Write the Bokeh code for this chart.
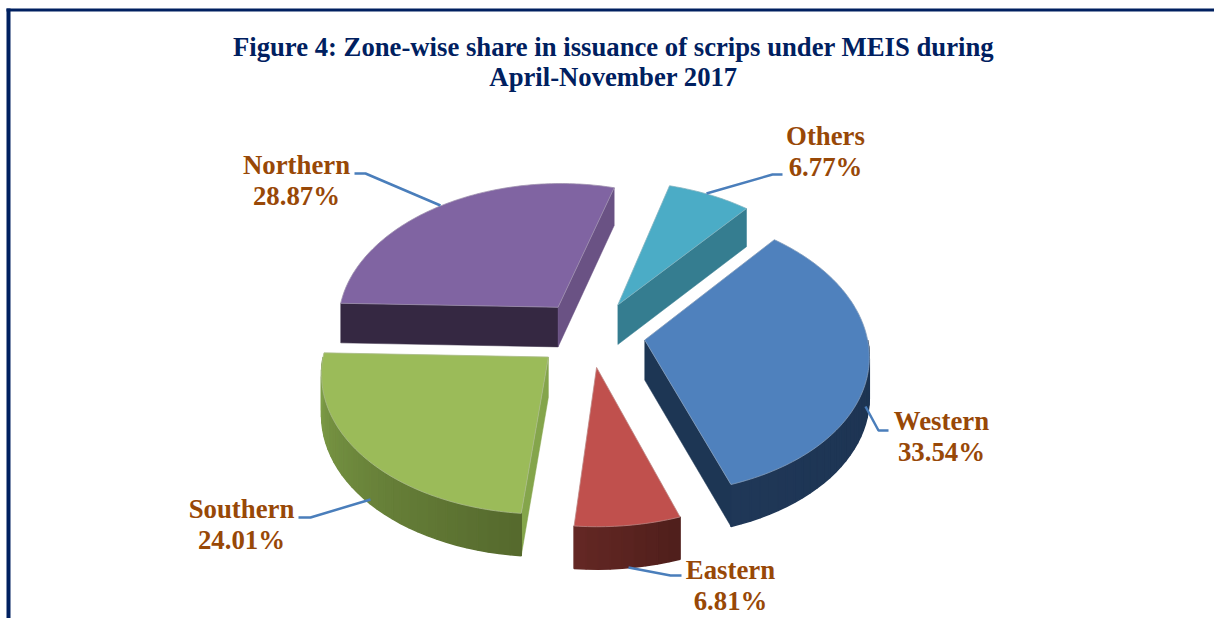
import math
from bokeh.plotting import figure
from bokeh.models import Range1d
from bokeh.core.properties import value
from bokeh.embed import file_html
from bokeh.resources import INLINE

# --- data ---
zones = ["Western", "Eastern", "Southern", "Northern", "Others"]
shares = [33.54, 6.81, 24.01, 28.87, 6.77]
share_labels = ["33.54%", "6.81%", "24.01%", "28.87%", "6.77%"]
title_lines = ["Figure 4: Zone-wise share in issuance of scrips under MEIS during",
               "April-November 2017"]

# --- style ---
top_colors = ["#4f81bd", "#c0504d", "#9bbb59", "#8064a2", "#4bacc6"]
rim_colors = [("#1f3757", "#1d3452"), ("#642824", "#4f1e1b"), ("#7f9f48", "#55692d"),
              None, None]
start_face = [None, None, "#84a54b", "#352842", None]
end_face = ["#1d3654", None, None, "#6a5284", "#357d90"]
draw_order = [4, 3, 0, 2, 1]
slice_shift = [(0, 0), (-6, 2), (-11, 2), (-10, -3), (-1, -3)]

# --- projection ---
START = 40.0
EXPLODE = 0.22
CX, CY = 596.0, 334.0
RX, RY = 222.0, 139.0
KX, KY = 0.10, 0.09
DEPTH = 40.0
W, H = 1214, 618


def project(X, Y, low=False):
    x = CX + RX * X / (1 - KX * Y)
    y = CY + RY * Y / (1 - KY * Y)
    if low:
        y += DEPTH * (1 + 0.05 * Y)
    return x, y


def ground(theta, mid, r=1.0):
    t, m = math.radians(theta), math.radians(mid)
    return (EXPLODE * math.sin(m) + r * math.sin(t),
            -EXPLODE * math.cos(m) - r * math.cos(t))


def pt(i, theta, mid, r=1.0, low=False):
    x, y = project(*ground(theta, mid, r), low=low)
    return x + slice_shift[i][0], y + slice_shift[i][1]


def mix(a, b, f):
    ca = [int(a[i:i + 2], 16) for i in (1, 3, 5)]
    cb = [int(b[i:i + 2], 16) for i in (1, 3, 5)]
    return "#%02x%02x%02x" % tuple(round(u + (v - u) * f) for u, v in zip(ca, cb))


total = sum(shares)
angles = []
cur = START
for s in shares:
    angles.append((cur, cur + s / total * 360))
    cur += s / total * 360

p = figure(width=W, height=H, x_range=Range1d(0, W), y_range=Range1d(H, 0),
           output_backend="svg", toolbar_location=None, min_border=0,
           outline_line_color=None)
p.axis.visible = False
p.grid.visible = False
p.background_fill_color = "#ffffff"
p.border_fill_color = "#ffffff"

# frame
p.quad(left=[6], right=[10], top=[8], bottom=[H], color="#002060", line_width=0)
p.quad(left=[6], right=[W], top=[8], bottom=[11], color="#002060", line_width=0)


def face(i, theta, mid, color):
    a = pt(i, 0, mid, 0)
    b = pt(i, theta, mid)
    c = pt(i, theta, mid, low=True)
    d = pt(i, 0, mid, 0, low=True)
    p.patch([a[0], b[0], c[0], d[0]], [a[1], b[1], c[1], d[1]],
            fill_color=color, line_color=color, line_width=0.5)


for i in draw_order:
    a0, a1 = angles[i]
    mid = (a0 + a1) / 2
    if start_face[i]:
        face(i, a0, mid, start_face[i])
    if end_face[i]:
        face(i, a1, mid, end_face[i])
    if rim_colors[i]:
        lo = max(a0, 90)
        hi = min(a1, 270)
        n = int(max((hi - lo) / 2.5, 1))
        xs, ys, cols = [], [], []
        for k in range(n):
            t0 = lo + (hi - lo) * k / n
            t1 = lo + (hi - lo) * (k + 1) / n
            u0, u1 = pt(i, t0, mid), pt(i, t1, mid)
            l0, l1 = pt(i, t0, mid, low=True), pt(i, t1, mid, low=True)
            xs.append([u0[0], u1[0], l1[0], l0[0]])
            ys.append([u0[1], u1[1], l1[1], l0[1]])
            f = (k + 0.5) / n
            cols.append(mix(rim_colors[i][1], rim_colors[i][0], f))
        p.patches(xs, ys, fill_color=cols, line_color=cols, line_width=1.5)
    steps = max(int(a1 - a0), 2)
    pts = [pt(i, 0, mid, 0)]
    pts += [pt(i, a0 + (a1 - a0) * k / steps, mid) for k in range(steps + 1)]
    p.patch([q[0] for q in pts], [q[1] for q in pts], fill_color=top_colors[i],
            line_color=mix(top_colors[i], "#bbbbbb", 0.5), line_width=0.8)

# leader lines (layout)
leaders = {"Northern": ([354, 365, 440], [173, 173, 205]),
           "Others": ([782, 772, 706], [174, 174, 193]),
           "Western": ([888, 878, 865], [430, 430, 406]),
           "Southern": ([298, 310, 370], [517, 517, 499]),
           "Eastern": ([681, 670, 628], [575, 575, 567])}
for name in zones:
    p.line(leaders[name][0], leaders[name][1], line_color="#4a7ebb", line_width=2.5)

label_pos = {"Northern": (296, 164), "Others": (825, 135), "Western": (941, 420),
             "Southern": (241, 508), "Eastern": (730, 569)}
LINE = 31
for name, lab in zip(zones, share_labels):
    lx, ly = label_pos[name]
    p.text([lx, lx], [ly, ly + LINE], text=[name, lab], text_align="center",
           text_baseline="middle", text_color="#984807",
           text_font=value("Liberation Serif"), text_font_style="bold",
           text_font_size="26.8px")

p.text([613, 613], [46, 76], text=title_lines, text_align="center",
       text_baseline="middle", text_color="#002060",
       text_font=value("Liberation Serif"), text_font_style="bold",
       text_font_size="26.7px")

open("out.html", "w").write(file_html(p, INLINE))
